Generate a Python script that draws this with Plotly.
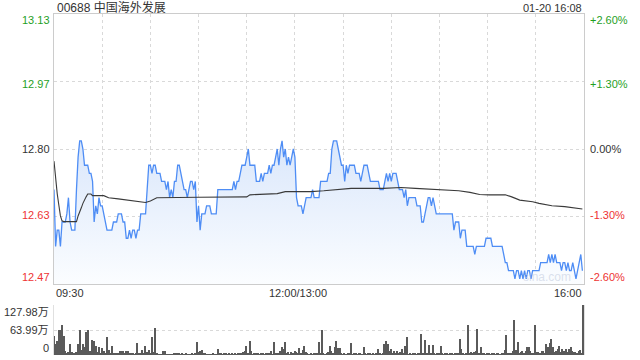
import plotly.graph_objects as go

# ---------------- data ----------------
prev_close = 12.80
title_text = "00688 中国海外发展"
stamp_text = "01-20 16:08"

# minute prices 09:30 .. 16:00 (minute index on a 330-minute trading axis)
price = [
    12.70, 12.56, 12.60, 12.60, 12.56, 12.62, 12.62, 12.62, 12.64, 12.68,
    12.62, 12.60, 12.60, 12.60, 12.70, 12.78, 12.82, 12.82, 12.80, 12.76,
    12.76, 12.76, 12.74, 12.74, 12.72, 12.62, 12.66, 12.64, 12.68, 12.66,
    12.66, 12.64, 12.62, 12.60, 12.60, 12.60, 12.60, 12.62, 12.62, 12.62,
    12.64, 12.64, 12.64, 12.62, 12.62, 12.58, 12.58, 12.60, 12.58, 12.60,
    12.60, 12.58, 12.60, 12.60, 12.64, 12.64, 12.64, 12.64, 12.70, 12.76,
    12.76, 12.74, 12.76, 12.76, 12.74, 12.74, 12.74, 12.72, 12.72, 12.72,
    12.70, 12.72, 12.68, 12.70, 12.68, 12.72, 12.72, 12.76, 12.76, 12.74,
    12.72, 12.70, 12.70, 12.68, 12.70, 12.72, 12.72, 12.70, 12.72, 12.62,
    12.66, 12.60, 12.64, 12.64, 12.64, 12.66, 12.66, 12.66, 12.64, 12.64,
    12.64, 12.64, 12.70, 12.70, 12.70, 12.70, 12.70, 12.70, 12.70, 12.70,
    12.70, 12.70, 12.72, 12.70, 12.72, 12.72, 12.74, 12.76, 12.76, 12.76,
    12.78, 12.80, 12.76, 12.76, 12.76, 12.76, 12.72, 12.72, 12.72, 12.74,
    12.72, 12.74, 12.74, 12.74, 12.76, 12.74, 12.76, 12.76, 12.78, 12.80,
    12.76, 12.80, 12.82, 12.78, 12.80, 12.76, 12.78, 12.76, 12.78, 12.80,
    12.78, 12.68, 12.66, 12.66, 12.66, 12.64, 12.66, 12.68, 12.68, 12.68,
    12.68, 12.70, 12.68, 12.68, 12.68, 12.68, 12.72, 12.72, 12.72, 12.72,
    12.72, 12.74, 12.74, 12.80, 12.82, 12.82, 12.82, 12.80, 12.78, 12.76,
    12.76, 12.72, 12.76, 12.74, 12.76, 12.76, 12.76, 12.76, 12.74, 12.74,
    12.74, 12.72, 12.74, 12.76, 12.76, 12.76, 12.74, 12.72, 12.72, 12.72,
    12.72, 12.72, 12.72, 12.70, 12.70, 12.70, 12.72, 12.74, 12.72, 12.74,
    12.72, 12.74, 12.74, 12.74, 12.72, 12.70, 12.70, 12.70, 12.68, 12.70,
    12.66, 12.68, 12.68, 12.68, 12.68, 12.68, 12.66, 12.66, 12.66, 12.62,
    12.62, 12.64, 12.66, 12.68, 12.68, 12.66, 12.68, 12.66, 12.64, 12.64,
    12.64, 12.64, 12.64, 12.64, 12.64, 12.64, 12.64, 12.64, 12.64, 12.60,
    12.62, 12.62, 12.62, 12.58, 12.60, 12.60, 12.60, 12.56, 12.56, 12.56,
    12.56, 12.56, 12.54, 12.56, 12.56, 12.56, 12.56, 12.56, 12.56, 12.58,
    12.58, 12.58, 12.58, 12.56, 12.56, 12.56, 12.56, 12.56, 12.56, 12.56,
    12.54, 12.52, 12.52, 12.50, 12.50, 12.50, 12.50, 12.48, 12.50, 12.50,
    12.48, 12.50, 12.48, 12.50, 12.48, 12.50, 12.50, 12.48, 12.50, 12.50,
    12.50, 12.50, 12.50, 12.52, 12.52, 12.52, 12.52, 12.52, 12.54, 12.52,
    12.54, 12.52, 12.54, 12.52, 12.52, 12.52, 12.50, 12.52, 12.52, 12.50,
    12.52, 12.50, 12.50, 12.52, 12.50, 12.48, 12.50, 12.52, 12.54, 12.50,
]

# average-price line, read at its turning points
avg_minute = [0, 1, 2, 3, 4, 5, 6, 14, 15, 17, 18, 20, 21, 23, 24, 31, 34, 40,
              46, 52, 57, 60, 64, 90, 120, 122, 131, 139, 144, 160, 168, 176,
              185, 205, 216, 225, 240, 248, 252, 259, 265, 271, 281, 285, 290,
              298, 302, 310, 318, 329]
avg_price = [12.770, 12.720, 12.690, 12.662, 12.635, 12.623, 12.621, 12.621,
             12.635, 12.655, 12.666, 12.682, 12.689, 12.689, 12.685, 12.685,
             12.680, 12.677, 12.674, 12.672, 12.668, 12.672, 12.680, 12.681,
             12.682, 12.687, 12.688, 12.690, 12.695, 12.695, 12.697, 12.700,
             12.703, 12.703, 12.705, 12.703, 12.700, 12.699, 12.697, 12.693,
             12.688, 12.687, 12.687, 12.682, 12.674, 12.670, 12.666, 12.660,
             12.658, 12.652]

# minute volume, in 万 shares (last bar = closing auction)
volume = [
    47.6, 28.5, 37, 65, 63, 76, 47.6, 11, 4, 7,
    27, 7, 4, 3, 7, 27, 65, 13, 28.5, 20,
    59, 65, 11, 9.5, 39, 35, 22, 7, 20, 4,
    18, 11, 4, 46, 13, 4, 24, 4, 3, 6,
    4, 9, 11, 9.5, 4, 9.5, 11, 4, 3, 3,
    2, 3, 30, 4, 4, 13, 6, 24, 7, 13,
    3, 46, 7, 69, 3, 1, 2, 1, 11, 11,
    2, 1, 2, 1, 2, 3, 5, 6, 4, 2,
    3, 2, 3, 1, 2, 2, 3, 2, 3, 33,
    7, 9.5, 14, 3, 3, 1, 2, 2, 1, 3,
    2, 2, 15.6, 3, 4, 2, 3, 3, 2, 3,
    2, 3, 2, 3, 2, 4, 3, 5, 7, 11,
    22, 5, 37, 11, 2, 3, 4, 3, 2, 4,
    3, 2, 4, 3, 5, 11, 2, 33, 3, 4,
    4, 11, 20, 15.6, 33, 3, 7, 2, 7, 3,
    11, 7, 3, 17, 4, 13, 24, 7, 3, 2,
    3, 2, 3, 4, 3, 33, 5, 63, 4, 2,
    3, 7, 22, 11, 3, 20, 35, 18, 18, 3,
    2, 3, 2, 4, 3, 30, 2, 3, 6, 2,
    3, 4, 2, 20, 3, 2, 4, 3, 2, 3,
    2, 4, 15.6, 3, 2, 4, 28.5, 35, 28.5, 11,
    15.6, 4, 11, 3, 9.5, 4, 7, 15.6, 3, 24,
    46, 2, 3, 2, 4, 3, 2, 3, 4, 53,
    4, 39, 3, 3, 26, 4, 26, 3, 2, 4,
    3, 22, 3, 2, 4, 3, 2, 4, 3, 2,
    3, 4, 5, 41.5, 15.6, 3, 2, 4, 76, 5,
    7, 3, 7, 11, 67, 3, 20, 4, 3, 2,
    4, 3, 2, 5, 3, 2, 4, 3, 2, 4,
    3, 13, 52, 4, 4, 3, 11, 89, 13, 33,
    4, 7, 11, 3, 11, 20, 20, 11, 3, 4,
    76, 7, 7, 3, 11, 11, 4, 27, 20, 30,
    41.5, 20, 7, 11, 15.6, 24, 7, 15.6, 11, 15.6,
    7, 15.6, 20, 11, 7, 7, 5, 9, 12, 4,
    127.98,
]

pct_levels = [2.6, 1.3, 0.0, -1.3, -2.6]
price_labels = ["13.13", "12.97", "12.80", "12.63", "12.47"]
pct_labels = ["+2.60%", "+1.30%", "0.00%", "-1.30%", "-2.60%"]
time_labels = ["09:30", "12:00/13:00", "16:00"]
time_minutes = [0, 150, 330]
vol_max = 127.98
vol_labels = ["127.98万", "63.99万", "0"]
vol_levels = [127.98, 63.99, 0]

# ---------------- figure ----------------
GREEN = "#1f9f1f"
RED = "#ee3333"
DARK = "#333333"
FONT = "Liberation Sans, Arial, Noto Sans CJK SC, sans-serif"

minutes = list(range(len(price)))
y_lo = prev_close * (1 - 0.026)
y_hi = prev_close * (1 + 0.026)

fig = go.Figure()

# baseline for the area fill (bottom of the price axis)
fig.add_trace(go.Scatter(x=[minutes[0], minutes[-1]], y=[y_lo, y_lo], mode="lines",
                         line=dict(width=0, color="rgba(0,0,0,0)"),
                         hoverinfo="skip", showlegend=False))
fig.add_trace(go.Scatter(
    x=minutes, y=price, mode="lines",
    line=dict(color="#4e8df5", width=1.3),
    fill="tonexty",
    fillgradient=dict(type="vertical", start=y_lo, stop=max(price),
                      colorscale=[[0, "rgba(251,253,255,1)"], [1, "rgba(218,231,251,1)"]]),
    showlegend=False, hoverinfo="skip"))
fig.add_trace(go.Scatter(x=avg_minute, y=avg_price, mode="lines",
                         line=dict(color="#3a3a3a", width=1.1),
                         showlegend=False, hoverinfo="skip"))

fig.add_trace(go.Bar(x=list(range(len(volume))), y=volume, width=0.65,
                     marker=dict(color="#5a5a5a", line=dict(width=0)),
                     xaxis="x2", yaxis="y2", showlegend=False, hoverinfo="skip"))

grid = "#d9d9d9"
border = "#cccccc"
fig.update_layout(
    width=640, height=360,
    margin=dict(l=54, r=56, t=14, b=5),
    paper_bgcolor="white", plot_bgcolor="white",
    font=dict(family=FONT, size=11, color=DARK),
    bargap=0,
    xaxis=dict(domain=[0, 1], range=[0, 330], tickvals=list(range(30, 330, 30)),
               showticklabels=False, ticks="", showgrid=True, gridcolor=grid,
               griddash="dot", gridwidth=1, zeroline=False,
               showline=True, mirror=True, linecolor=border, linewidth=1),
    yaxis=dict(domain=[0.2082, 1], range=[y_lo, y_hi],
               tickvals=[prev_close * (1 + p / 100) for p in pct_levels[1:4]],
               showticklabels=False, ticks="", showgrid=True, gridcolor=grid,
               griddash="dot", gridwidth=1, zeroline=False,
               showline=True, mirror=True, linecolor=border, linewidth=1),
    xaxis2=dict(domain=[0, 1], range=[0, 330.4], anchor="y2", showticklabels=False,
                ticks="", showgrid=False, zeroline=False, showline=False),
    yaxis2=dict(domain=[0, 0.1466], range=[0, vol_max], anchor="x2",
                tickvals=[vol_max / 2, vol_max], showticklabels=False, ticks="",
                showgrid=True, gridcolor=grid, griddash="dot", gridwidth=1,
                zeroline=False, showline=True, mirror=True, linecolor="#e0e0e0",
                linewidth=1),
)

ann = []
ann.append(dict(text=title_text, xref="paper", yref="paper", x=0, y=1.019,
                xanchor="left", yanchor="middle", showarrow=False,
                font=dict(size=12, color=DARK, family=FONT), xshift=1))
ann.append(dict(text=stamp_text, xref="paper", yref="paper", x=1, y=1.019,
                xanchor="right", yanchor="middle", showarrow=False,
                font=dict(size=11, color=DARK, family=FONT)))

label_colors = [GREEN, GREEN, DARK, RED, RED]
label_shift = [-6, -2, 0, 2, 7]
for p, pl, cl, col, sh in zip(pct_levels, price_labels, pct_labels, label_colors, label_shift):
    yv = prev_close * (1 + p / 100)
    ann.append(dict(text=pl, xref="paper", yref="y", x=0, y=yv, xanchor="right",
                    yanchor="middle", xshift=-2, yshift=sh, showarrow=False,
                    font=dict(size=11, color=col, family=FONT)))
    ann.append(dict(text=cl, xref="paper", yref="y", x=1, y=yv, xanchor="left",
                    yanchor="middle", xshift=4, yshift=sh, showarrow=False,
                    font=dict(size=11, color=col, family=FONT)))

for t, m, anc in zip(time_labels, time_minutes, ["left", "center", "right"]):
    ann.append(dict(text=t, xref="x", yref="paper", x=m, y=0.1804, xanchor=anc,
                    yanchor="middle", showarrow=False, xshift=(3 if anc == "center" else 0),
                    font=dict(size=11, color=DARK, family=FONT)))

for t, v, sh in zip(vol_labels, vol_levels, [-7, 0, 7]):
    ann.append(dict(text=t, xref="paper", yref="y2", x=0, y=v, xanchor="right",
                    yanchor="middle", xshift=-3, yshift=sh, showarrow=False,
                    font=dict(size=11, color=DARK, family=FONT)))

ann.append(dict(text="sina.com", xref="paper", yref="paper", x=0.979, y=0.2287,
                xanchor="right", yanchor="middle", showarrow=False,
                font=dict(size=12, color="rgba(190,200,220,0.55)", family=FONT)))

fig.update_layout(annotations=ann)
fig.write_html("out.html")
